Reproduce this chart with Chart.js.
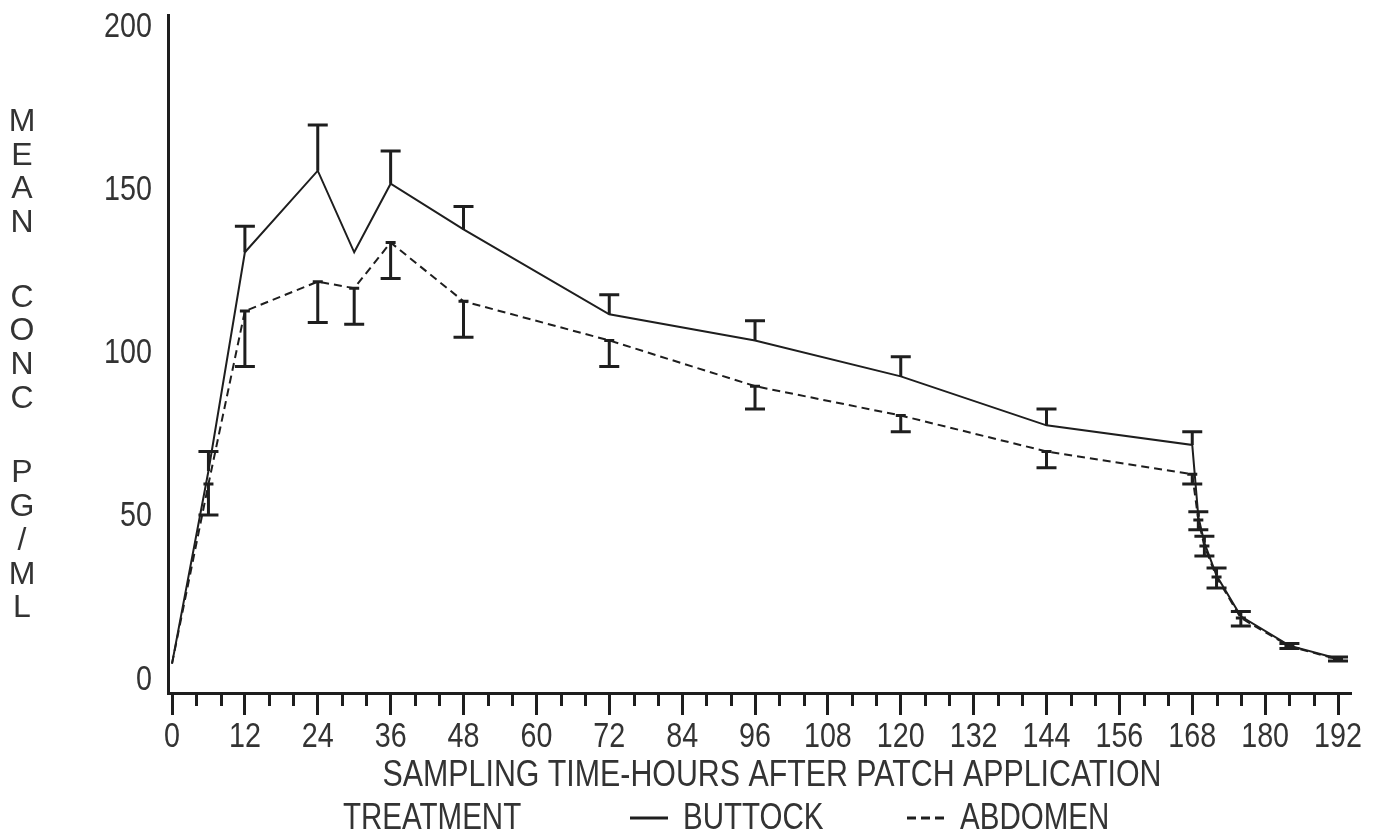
<!DOCTYPE html>
<html lang="en">
<head>
<meta charset="UTF-8">
<title>Mean concentration by patch site</title>
<script src="https://cdn.jsdelivr.net/npm/chart.js@4"></script>
<style>
  html, body { margin: 0; padding: 0; background: #fff; }
</style>
</head>
<body>
<canvas id="concChart" width="1382" height="836"></canvas>
<script>
// sampling times (hours after patch application)
const hours = [0, 6, 12, 24, 30, 36, 48, 72, 96, 120, 144, 168, 169, 170, 172, 176, 184, 192];
// mean concentration, pg/ml
const buttock = [5, 64, 131, 156, 131, 152, 138, 112, 104, 93, 78, 72, 50, 42, 32, 19.5, 10.5, 6.5];
const abdomen = [5, 60, 113, 122, 120, 134, 116, 104, 90, 81, 70, 63, 49, 41, 31.5, 19, 10.3, 6.3];
// error bar ends (buttock drawn upward, abdomen downward)
const buttockUpper = [null, 70, 139, 170, null, 162, 145, 118, 110, 99, 83, 76, 51.5, 44, 34.3, 21, 11.2, 7];
const abdomenLower = [null, 50.5, 96, 109.5, 109, 123, 105, 96, 83, 76, 65, 60, 46, 38, 28.2, 16.5, 9.6, 5.8];

const xTickLabels = [0, 12, 24, 36, 48, 60, 72, 84, 96, 108, 120, 132, 144, 156, 168, 180, 192];
const yTickLabels = [0, 50, 100, 150, 200];
const yTitleWords = ['MEAN', 'CONC', 'PG/ML'];
const xTitle = 'SAMPLING TIME-HOURS AFTER PATCH APPLICATION';
const legendTitle = 'TREATMENT';

const INK = '#1e1e1e';
const TEXT = '#333';
const FONT = '"Liberation Sans", Arial, sans-serif';
const minorStep = 4;

// condensed text: Liberation Sans squeezed sideways (no narrow face installed)
function narrowText(ctx, text, x, y, size, align) {
    ctx.save();
    ctx.translate(x, y);
    ctx.scale(0.82, 1);
    ctx.font = size + 'px ' + FONT;
    ctx.textAlign = align;
    ctx.textBaseline = 'middle';
    ctx.fillText(text, 0, 0);
    ctx.restore();
}

const errorBars = {
    id: 'errorBars',
    afterDatasetsDraw(chart) {
        const ctx = chart.ctx;
        const xs = chart.scales.x, ys = chart.scales.y;
        ctx.save();
        ctx.strokeStyle = INK;
        ctx.lineWidth = 3;
        const draw = (vals, ends, bottomCap) => {
            vals.forEach((v, i) => {
                if (ends[i] == null) return;
                const x = xs.getPixelForValue(hours[i]);
                const y0 = ys.getPixelForValue(v);
                const y1 = ys.getPixelForValue(ends[i]);
                ctx.beginPath();
                ctx.moveTo(x, y0);
                ctx.lineTo(x, y1);
                ctx.moveTo(x - 10, y1);
                ctx.lineTo(x + 10, y1);
                if (bottomCap) {
                    ctx.moveTo(x - 5, y0);
                    ctx.lineTo(x + 5, y0);
                }
                ctx.stroke();
            });
        };
        draw(buttock, buttockUpper, false);
        draw(abdomen, abdomenLower, true);
        ctx.restore();
    }
};

const extras = {
    id: 'extras',
    afterDraw(chart) {
        const ctx = chart.ctx;
        const xs = chart.scales.x, ys = chart.scales.y;
        const area = chart.chartArea;
        ctx.save();
        // minor ticks on the time axis
        ctx.strokeStyle = INK;
        ctx.lineWidth = 3;
        ctx.beginPath();
        for (let t = 0; t <= 192; t += minorStep) {
            if (t % 12 === 0) continue;
            const x = Math.round(xs.getPixelForValue(t)) + 0.5;
            ctx.moveTo(x, area.bottom);
            ctx.lineTo(x, area.bottom + 13);
        }
        ctx.stroke();

        ctx.fillStyle = TEXT;
        // tick labels
        xTickLabels.forEach(v => narrowText(ctx, String(v), xs.getPixelForValue(v), 737, 35, 'center'));
        yTickLabels.forEach(v => narrowText(ctx, String(v), area.left - 16, ys.getPixelForValue(v), 35, 'right'));

        // stacked y title
        ctx.font = '32px ' + FONT;
        ctx.textAlign = 'center';
        ctx.textBaseline = 'middle';
        let y = 122;
        yTitleWords.forEach(w => {
            for (const ch of w) {
                ctx.fillText(ch, 22, y);
                y += 33.7;
            }
            y += 41;
        });

        // x title
        narrowText(ctx, xTitle, 772, 776, 37, 'center');

        // legend
        narrowText(ctx, legendTitle, 343, 819, 36, 'left');
        narrowText(ctx, chart.data.datasets[0].label, 683, 819, 36, 'left');
        narrowText(ctx, chart.data.datasets[1].label, 960, 819, 36, 'left');
        ctx.lineWidth = 3;
        ctx.beginPath();
        ctx.moveTo(630, 818);
        ctx.lineTo(668, 818);
        ctx.stroke();
        ctx.setLineDash([9, 5]);
        ctx.beginPath();
        ctx.moveTo(907, 818);
        ctx.lineTo(945, 818);
        ctx.stroke();
        ctx.restore();
    }
};

const ctx = document.getElementById('concChart').getContext('2d');
new Chart(ctx, {
    type: 'line',
    data: {
        datasets: [{
            label: 'BUTTOCK',
            data: hours.map((h, i) => ({ x: h, y: buttock[i] })),
            borderColor: INK,
            borderWidth: 2,
            pointRadius: 0,
            tension: 0,
            fill: false
        }, {
            label: 'ABDOMEN',
            data: hours.map((h, i) => ({ x: h, y: abdomen[i] })),
            borderColor: INK,
            borderWidth: 2,
            borderDash: [8, 5],
            pointRadius: 0,
            tension: 0,
            fill: false
        }]
    },
    options: {
        responsive: false,
        animation: false,
        layout: { padding: { top: 15, right: 31, left: 0, bottom: 0 } },
        plugins: {
            legend: { display: false },
            tooltip: { enabled: false }
        },
        scales: {
            x: {
                type: 'linear',
                min: -0.66,
                max: 194.14,
                afterBuildTicks: scale => {
                    scale.ticks = xTickLabels.map(v => ({ value: v }));
                },
                afterFit: scale => { scale.height = 143; },
                ticks: { display: false },
                grid: {
                    display: true,
                    drawOnChartArea: false,
                    drawTicks: true,
                    tickLength: 22,
                    tickWidth: 3,
                    tickColor: INK
                },
                border: { display: true, width: 3, color: INK }
            },
            y: {
                type: 'linear',
                min: -4,
                max: 203.7,
                afterBuildTicks: scale => {
                    scale.ticks = yTickLabels.map(v => ({ value: v }));
                },
                afterFit: scale => { scale.width = 168; },
                ticks: { display: false },
                grid: { display: false, drawTicks: false },
                border: { display: true, width: 3, color: INK }
            }
        }
    },
    plugins: [errorBars, extras]
});
</script>
</body>
</html>
